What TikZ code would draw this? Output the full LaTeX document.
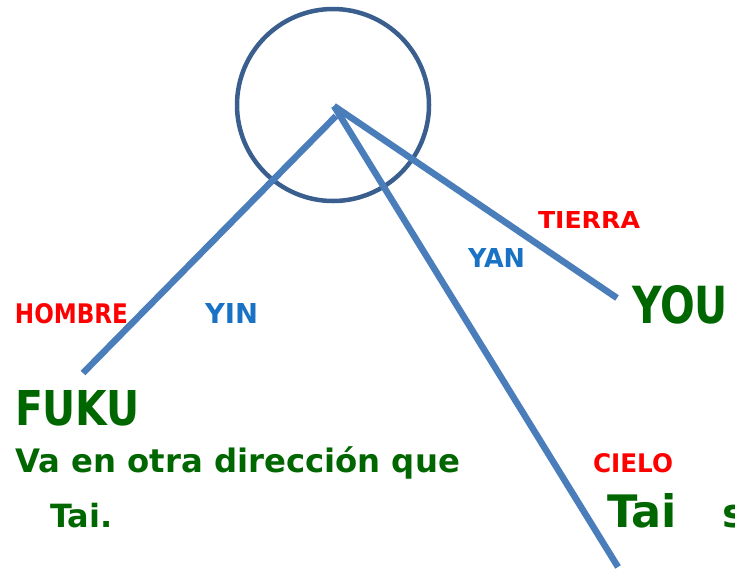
\documentclass[tikz,border=0pt]{standalone}
\usepackage{fontspec}
\setmainfont{DejaVu Sans}
\usepackage{graphicx}
\definecolor{ringblue}{HTML}{3A5F8F}
\definecolor{lineblue}{HTML}{4A7EBB}
\definecolor{txtblue}{HTML}{1A72C4}
\definecolor{txtred}{HTML}{FF0000}
\definecolor{txtgreen}{HTML}{006600}
\newcommand{\fitbox}[3]{\resizebox{#1pt}{#2pt}{\bfseries #3}}
\tikzset{
  lbl/.style={anchor=base west, inner sep=0pt, outer sep=0pt},
  redlbl/.style={lbl, text=txtred},
  bluelbl/.style={lbl, text=txtblue},
  greenlbl/.style={lbl, text=txtgreen},
  stick/.style={draw=lineblue, line width=6.5pt},
  ring/.style={circle, draw=ringblue, line width=4.5pt, minimum size=192pt, inner sep=0pt}
}
\begin{document}
\begin{tikzpicture}[x=1pt,y=-1pt]
\useasboundingbox (0,0) rectangle (735,571);
\node[ring] (ring) at (333,105) {};
\coordinate (apex) at (334,106);
\coordinate (apexL) at (336,116);
\coordinate (endL) at (83,373);
\coordinate (endR) at (617,298);
\coordinate (endD) at (618,567);
\draw[stick] (apexL) -- (endL);
\draw[stick] (apex) -- (endR);
\draw[stick] (apex) -- (endD);
\node[redlbl] (tierra) at (538,228) {\fitbox{102}{17}{TIERRA}};
\node[bluelbl] (yan) at (468,267) {\fitbox{57}{19}{YAN}};
\node[redlbl] (hombre) at (15,323) {\fitbox{113}{20}{HOMBRE}};
\node[bluelbl] (yin) at (205,323) {\fitbox{53}{20}{YIN}};
\node[greenlbl] (you) at (632,323) {\fitbox{96}{38}{YOU}};
\node[greenlbl] (fuku) at (15,425) {\fitbox{125}{35}{FUKU}};
\node[greenlbl] (va) at (15,472) {\resizebox{445pt}{!}{\bfseries Va en otra dirección que}};
\node[greenlbl] (tai1) at (50,527) {\fontsize{32}{36}\selectfont\bfseries Tai.};
\node[redlbl] (cielo) at (593,472) {\fitbox{80}{19}{CIELO}};
\node[greenlbl] (tai2) at (607,527) {\fitbox{70}{34}{Tai}};
\node[greenlbl] (s) at (722,527) {\fontsize{40}{44}\selectfont\bfseries s};
\end{tikzpicture}
\end{document}
